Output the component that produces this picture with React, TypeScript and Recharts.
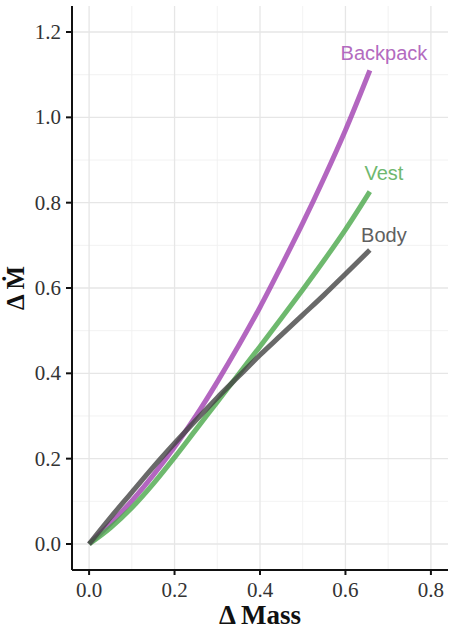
import { LineChart, Line, XAxis, YAxis, ReferenceLine, ReferenceDot } from "recharts"

// Δ Mass (x) shared by all three curves
const mass = [0, 0.05, 0.1, 0.15, 0.2, 0.25, 0.3, 0.35, 0.4, 0.45, 0.5, 0.55, 0.6, 0.657]
const backpack = [0, 0.048, 0.101, 0.161, 0.227, 0.3, 0.38, 0.465, 0.555, 0.652, 0.752, 0.858, 0.97, 1.11]
const vest = [0, 0.038, 0.085, 0.141, 0.203, 0.268, 0.333, 0.398, 0.463, 0.529, 0.596, 0.665, 0.737, 0.826]
const body = [0, 0.062, 0.121, 0.18, 0.236, 0.29, 0.343, 0.393, 0.443, 0.49, 0.537, 0.584, 0.633, 0.689]

const xTicks = [0, 0.2, 0.4, 0.6, 0.8]
const yTicks = [0, 0.2, 0.4, 0.6, 0.8, 1.0, 1.2]
const xMinor = [0.1, 0.3, 0.5, 0.7]
const yMinor = [0.1, 0.3, 0.5, 0.7, 0.9, 1.1]

const series = [
  { key: "backpack", name: "Backpack", color: "#a040b0" },
  { key: "vest", name: "Vest", color: "#4aa84a" },
  { key: "body", name: "Body", color: "#444444" },
]

// where the curve names sit, in data units
const labels = [
  { name: "Backpack", x: 0.69, y: 1.151, color: "#b36bc0" },
  { name: "Vest", x: 0.69, y: 0.87, color: "#6fb86f" },
  { name: "Body", x: 0.69, y: 0.725, color: "#606060" },
]

const rows = mass.map((m, i) => ({ mass: m, backpack: backpack[i], vest: vest[i], body: body[i] }))

const serif = "'Liberation Serif', 'Times New Roman', serif"
const sans = "'Liberation Sans', Arial, sans-serif"

const XTick = ({ x, y, payload }: any) => (
  <text x={x} y={y + 22} textAnchor="middle" fontFamily={serif} fontSize={21} fill="#333">
    {Number(payload.value).toFixed(1)}
  </text>
)

const YTick = ({ x, y, payload }: any) => (
  <text x={x} y={y + 7} textAnchor="end" fontFamily={serif} fontSize={21} fill="#333">
    {Number(payload.value).toFixed(1)}
  </text>
)

export default function App() {
  return (
    <div style={{ position: "absolute", left: 0, top: 0, background: "#fff" }}>
      <LineChart width={456} height={630} data={rows} margin={{ top: 6, right: 8, left: 0, bottom: 0 }}>
        {xMinor.map((v) => (
          <ReferenceLine key={"xm" + v} x={v} stroke="#f0f0f0" strokeWidth={0.9} />
        ))}
        {yMinor.map((v) => (
          <ReferenceLine key={"ym" + v} y={v} stroke="#f0f0f0" strokeWidth={0.9} />
        ))}
        {xTicks.map((v) => (
          <ReferenceLine key={"xM" + v} x={v} stroke="#e6e6e6" strokeWidth={1.3} />
        ))}
        {yTicks.map((v) => (
          <ReferenceLine key={"yM" + v} y={v} stroke="#e6e6e6" strokeWidth={1.3} />
        ))}
        <XAxis
          dataKey="mass"
          type="number"
          domain={[-0.04, 0.84]}
          ticks={xTicks}
          height={60}
          tickSize={5}
          tickMargin={0}
          tick={<XTick />}
          axisLine={{ stroke: "#111", strokeWidth: 2 }}
          tickLine={{ stroke: "#111", strokeWidth: 2 }}
          label={{
            content: ({ viewBox }: any) => (
              <text
                x={viewBox.x + viewBox.width / 2}
                y={viewBox.y + 54}
                textAnchor="middle"
                fontFamily={serif}
                fontWeight="bold"
                fontSize={27}
                fill="#111"
              >
                Δ Mass
              </text>
            ),
          }}
        />
        <YAxis
          type="number"
          domain={[-0.061, 1.261]}
          ticks={yTicks}
          width={72}
          tickSize={6}
          tickMargin={5}
          tick={<YTick />}
          axisLine={{ stroke: "#111", strokeWidth: 2 }}
          tickLine={{ stroke: "#111", strokeWidth: 2 }}
          label={{
            content: ({ viewBox }: any) => {
              const cx = 24
              const cy = viewBox.y + viewBox.height / 2
              return (
                <text
                  x={cx}
                  y={cy}
                  transform={`rotate(-90 ${cx} ${cy})`}
                  textAnchor="middle"
                  fontFamily={serif}
                  fontWeight="bold"
                  fontSize={25}
                  fill="#111"
                >
                  Δ  Ṁ
                </text>
              )
            },
          }}
        />
        {series.map((s) => (
          <Line
            key={s.key}
            dataKey={s.key}
            name={s.name}
            type="monotone"
            stroke={s.color}
            strokeOpacity={0.8}
            strokeWidth={5}
            strokeLinecap="butt"
            dot={false}
            activeDot={false}
            isAnimationActive={false}
          />
        ))}
        {labels.map((l) => (
          <ReferenceDot
            key={l.name}
            x={l.x}
            y={l.y}
            r={0}
            fill="none"
            stroke="none"
            label={{ value: l.name, position: "center", fill: l.color, fontSize: 20, fontFamily: sans }}
          />
        ))}
      </LineChart>
    </div>
  )
}
